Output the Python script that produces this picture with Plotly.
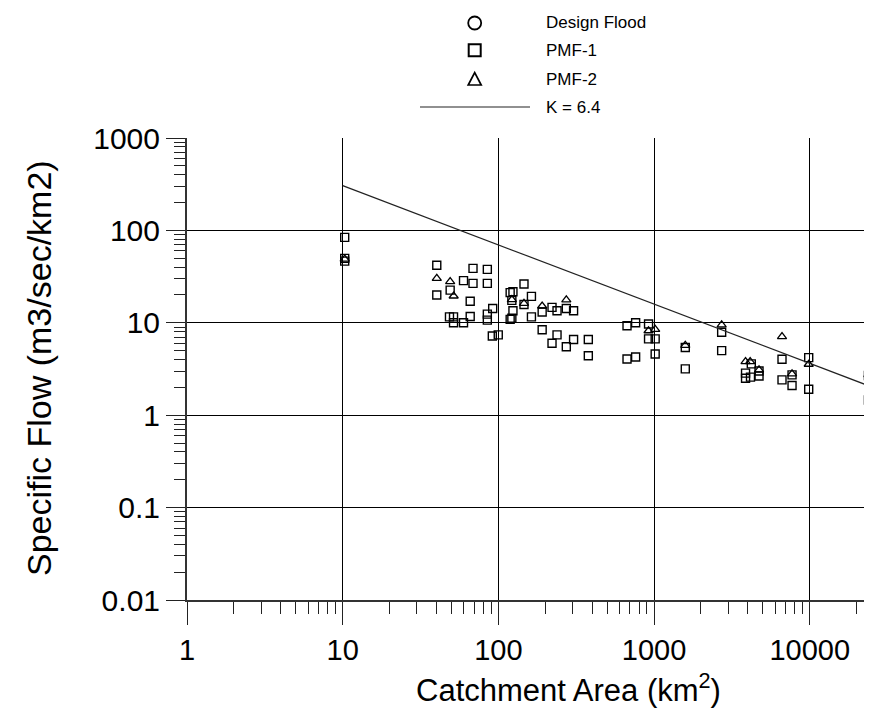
import plotly.graph_objects as go

# ---- data ----
pmf1_area = [10.3, 10.3, 10.3, 40.2, 40.2, 49, 68.7, 84.9, 59.7, 68.7, 84.9,
             65.9, 91.9, 84.9, 84.9, 65.9, 48.5, 51.5, 51.5, 59.7, 91.4, 99.8,
             146, 119, 124, 163, 122, 146, 191, 221, 238, 273, 304, 124,
             163, 119, 122, 191, 238, 221, 304, 378, 273, 378,
             670, 761, 921, 921, 1016, 1016, 670, 761,
             1586, 1586, 2716, 2716, 4210, 3866, 3866, 4160, 4720, 4720,
             6630, 6630, 7690, 7690, 9840, 9840, 23800, 23800]
pmf1_flow = [84, 49.8, 46.5, 42, 20, 22.6, 38.8, 37.9, 28.6, 26.7, 26.7,
             17.1, 14.3, 12.4, 10.7, 11.7, 11.6, 11.6, 10.0, 10.0, 7.2, 7.4,
             26.3, 21.2, 21.7, 19.3, 17.5, 15.8, 13.1, 14.7, 13.5, 14.3, 13.5, 13.5,
             11.6, 10.9, 11.2, 8.4, 7.4, 6.0, 6.6, 6.6, 5.5, 4.4,
             9.3, 10.0, 9.7, 6.7, 6.7, 4.6, 4.06, 4.27,
             5.4, 3.17, 7.9, 5.0, 3.59, 2.85, 2.51, 2.58, 3.01, 2.66,
             4.03, 2.41, 2.73, 2.1, 4.2, 1.91, 2.69, 1.46]

pmf2_area = [10.3, 40.2, 49, 51.6, 122, 146, 191, 273, 921, 1016, 1586, 2716,
             3866, 4140, 4720, 6630, 7690, 9840, 23800]
pmf2_flow = [49, 30.3, 27.9, 19.5, 17.8, 16.2, 15.2, 17.7, 8.2, 8.5, 5.7, 9.5,
             3.8, 3.8, 3.1, 7.1, 2.8, 3.56, 2.75]

design_area = []
design_flow = []

k_line_area = [10, 28250]
k_line_flow = [305, 1.87]

x_tick_vals = [1, 10, 100, 1000, 10000]
x_tick_text = ["1", "10", "100", "1000", "10000"]
y_tick_vals = [0.01, 0.1, 1, 10, 100, 1000]
y_tick_text = ["0.01", "0.1", "1", "10", "100", "1000"]

legend_labels = ["Design Flood", "PMF-1", "PMF-2", "K = 6.4"]

# ---- geometry ----
W, H = 872, 709
L, R, T, B = 179, 0, 130, 117
PW, PH = W - L - R, H - T - B
FONT = "Liberation Sans, Arial, sans-serif"


def px(xp):
    return (xp - L) / PW


def py(yp):
    return (H - B - yp) / PH


fig = go.Figure()
fig.add_trace(go.Scatter(x=design_area, y=design_flow, mode="markers",
                         marker=dict(symbol="circle-open", size=9, color="black",
                                     line=dict(width=1.4)), name=legend_labels[0]))
fig.add_trace(go.Scatter(x=pmf1_area, y=pmf1_flow, mode="markers", cliponaxis=False,
                         marker=dict(symbol="square-open", size=8, color="black",
                                     line=dict(width=1.4)), name=legend_labels[1]))
fig.add_trace(go.Scatter(x=pmf2_area, y=pmf2_flow, mode="markers", cliponaxis=False,
                         marker=dict(symbol="triangle-up-open", size=8, color="black",
                                     line=dict(width=1.3)), name=legend_labels[2]))
fig.add_trace(go.Scatter(x=k_line_area, y=k_line_flow, mode="lines",
                         line=dict(color="#222222", width=1.2), name=legend_labels[3]))

xr = [0, PW / 155.7]
fig.update_xaxes(type="log", range=xr, tickvals=x_tick_vals, ticktext=x_tick_text,
                 showgrid=True, gridcolor="black", gridwidth=1.3,
                 showline=True, linecolor="#333333", linewidth=2,
                 ticks="outside", ticklen=23, tickwidth=1.3, tickcolor="#222222",
                 tickfont=dict(family=FONT, size=29, color="black"),
                 minor=dict(ticks="outside", ticklen=12, tickwidth=1.3, tickcolor="#222222",
                            dtick="D1", showgrid=False),
                 zeroline=False)
fig.update_yaxes(type="log", range=[-2, 3], tickvals=y_tick_vals, ticktext=y_tick_text,
                 showgrid=True, gridcolor="black", gridwidth=1.3,
                 showline=True, linecolor="#333333", linewidth=2,
                 ticks="outside", ticklen=19, tickwidth=1.3, tickcolor="#222222",
                 tickfont=dict(family=FONT, size=30, color="black"),
                 minor=dict(ticks="outside", ticklen=11, tickwidth=1.3, tickcolor="#222222",
                            dtick="D1", showgrid=False),
                 zeroline=False)

shapes = []
annotations = []
# manual legend
lx = 466.7
rows_y = [15, 42.3, 71, 99]
shapes.append(dict(type="circle", xref="paper", yref="paper",
                   x0=px(lx - 6.5), x1=px(lx + 6.5), y0=py(rows_y[0] + 6.5), y1=py(rows_y[0] - 6.5),
                   line=dict(color="black", width=1.8)))
shapes.append(dict(type="rect", xref="paper", yref="paper",
                   x0=px(lx - 6), x1=px(lx + 6), y0=py(rows_y[1] + 6), y1=py(rows_y[1] - 6),
                   line=dict(color="black", width=2)))
tri = "M {} {} L {} {} L {} {} Z".format(px(lx - 6.5), py(rows_y[2] + 6), px(lx + 6.5), py(rows_y[2] + 6),
                                          px(lx), py(rows_y[2] - 6.5))
shapes.append(dict(type="path", xref="paper", yref="paper", path=tri,
                   line=dict(color="black", width=1.7)))
shapes.append(dict(type="line", xref="paper", yref="paper",
                   x0=px(412), x1=px(522), y0=py(rows_y[3]), y1=py(rows_y[3]),
                   line=dict(color="#222222", width=1.2)))
for lab, yy in zip(legend_labels, rows_y):
    annotations.append(dict(text=lab, xref="paper", yref="paper", x=px(536), y=py(yy),
                            xanchor="left", yanchor="middle", showarrow=False,
                            font=dict(family=FONT, size=17, color="black")))

# axis titles
annotations.append(dict(text="Catchment Area (km<sup>2</sup>)", xref="paper", yref="paper",
                        x=px(560), y=py(680), xanchor="center", yanchor="middle",
                        showarrow=False, font=dict(family=FONT, size=31, color="black")))
annotations.append(dict(text="Specific Flow (m3/sec/km2)", xref="paper", yref="paper",
                        x=px(31), y=py(360), xanchor="center", yanchor="middle", textangle=-90,
                        showarrow=False, font=dict(family=FONT, size=34, color="black")))

fig.update_layout(width=W, height=H, margin=dict(l=L, r=R, t=T, b=B),
                  paper_bgcolor="white", plot_bgcolor="white", showlegend=False,
                  shapes=shapes, annotations=annotations)

fig.write_html("out.html")
